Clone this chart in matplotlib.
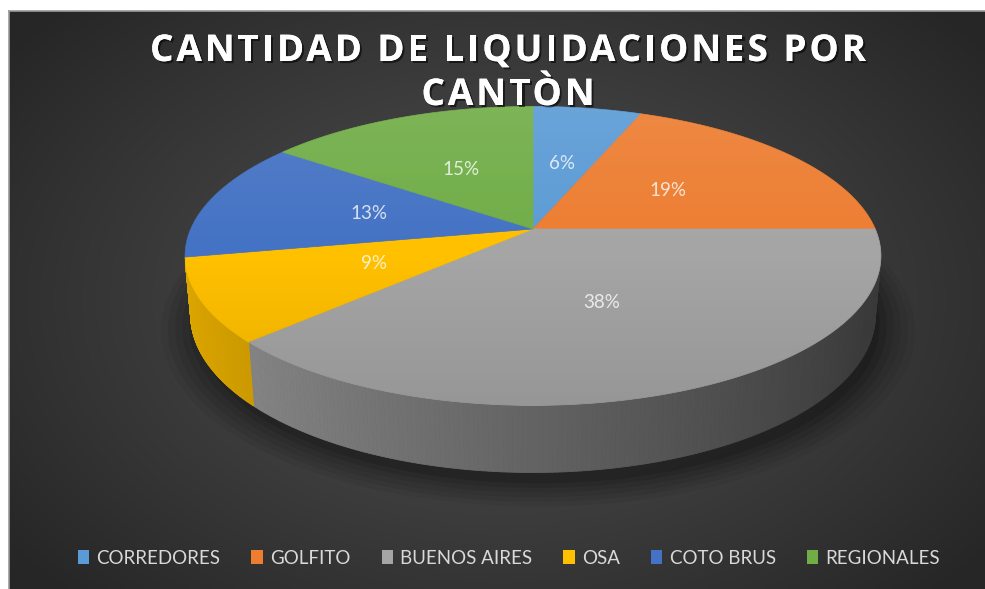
import numpy as np
import matplotlib
matplotlib.use("Agg")
import matplotlib.pyplot as plt
from matplotlib.patches import Polygon, Patch
from matplotlib.collections import PolyCollection
from matplotlib import patheffects as pe
from matplotlib.colors import to_rgb
from matplotlib.font_manager import FontProperties

# data
cantones = ["CORREDORES", "GOLFITO", "BUENOS AIRES", "OSA", "COTO BRUS", "REGIONALES"]
porcentajes = [6, 19, 38, 9, 13, 15]
colores = ["#5B9BD5", "#ED7D31", "#A5A5A5", "#FFC000", "#4472C4", "#70AD47"]
titulo = ["CANTIDAD DE LIQUIDACIONES POR", "CANTÒN"]

W, H = 985, 589

# 3D pie view (simple perspective camera)
TILT = np.radians(25)
DIST = 5.04
FOCAL = 1725
DEPTH = 0.19
CX, CY = 533, 229
COS_T, SIN_T = np.cos(TILT), np.sin(TILT)


def project(x, y, z):
    """Project world point (x right, y far, z up) to pixel coords."""
    depth = DIST + y * COS_T - z * SIN_T
    up = y * SIN_T + z * COS_T
    return CX + FOCAL * x / depth, CY - FOCAL * up / depth


def ring(theta, z, r=1.0):
    return project(r * np.cos(theta), r * np.sin(theta), z)


def tracked_text(ax, renderer, x_center, y, text, prop, track, **kw):
    """Draw text centred at x_center with extra letter spacing (pixels)."""
    def width(s):
        return renderer.get_text_width_height_descent(s, prop, ismath=False)[0]

    lefts = []
    for k, ch in enumerate(text):
        lefts.append(width(text[:k + 1]) - width(ch) if ch != " " else None)
    total = width(text) + track * (len(text) - 1)
    x0 = x_center - total / 2
    for k, ch in enumerate(text):
        if lefts[k] is None:
            continue
        ax.text(x0 + lefts[k] + k * track, y, ch, ha="left", va="baseline",
                fontproperties=prop, **kw)


fig = plt.figure(figsize=(W / 100, H / 100), dpi=100, facecolor="white")
ax = fig.add_axes([0, 0, 1, 1])
ax.set_xlim(0, W)
ax.set_ylim(H, 0)
ax.axis("off")
renderer = fig.canvas.get_renderer()

# background panel with radial gradient
gx, gy = np.meshgrid(np.linspace(9, W, 400), np.linspace(11, H, 240))
rad = np.sqrt(((gx - 500) / 620) ** 2 + ((gy - 300) / 420) ** 2)
rad = np.clip(rad, 0, 1) ** 1.2
c_in = np.array(to_rgb("#4e4e4e"))
c_out = np.array(to_rgb("#262626"))
bg = c_in[None, None, :] * (1 - rad[..., None]) + c_out[None, None, :] * rad[..., None]
ax.imshow(bg, extent=[9, W, H, 11], aspect="auto", zorder=0, interpolation="bilinear")
ax.plot([9, W], [11, 11], color="#9a9a9a", lw=1.2, zorder=1)
ax.plot([9, 9], [11, H], color="#9a9a9a", lw=1.2, zorder=1)

# slice angles: start at 12 o'clock, go clockwise
fracs = np.array(porcentajes, dtype=float) / sum(porcentajes)
bounds = np.concatenate([[0], np.cumsum(fracs)])
angles = np.radians(90 - 360 * bounds)

# soft shadow under the pie
full = np.linspace(0, 2 * np.pi, 360)
for k, a in zip(np.linspace(1.10, 1.0, 6), [0.05, 0.06, 0.07, 0.08, 0.1, 0.12]):
    sx, sy = ring(full, -DEPTH - 0.02, r=k)
    ax.add_patch(Polygon(np.column_stack([sx + 5, sy + 4]), closed=True,
                         facecolor="black", edgecolor="none", alpha=a, zorder=2))

# side walls (only the part facing the camera)
limit = -1 / (DIST * COS_T)
quads, qcolors = [], []
for i, col in enumerate(colores):
    base = np.array(to_rgb(col))
    t = np.linspace(angles[i], angles[i + 1], 200)
    for ta, tb in zip(t[:-1], t[1:]):
        tm = 0.5 * (ta + tb)
        if np.sin(tm) >= limit:
            continue
        xa0, ya0 = ring(ta, 0)
        xb0, yb0 = ring(tb, 0)
        xa1, ya1 = ring(ta, -DEPTH)
        xb1, yb1 = ring(tb, -DEPTH)
        quads.append([(xa0, ya0), (xb0, yb0), (xb1, yb1), (xa1, ya1)])
        shade = 0.60 - 0.27 * np.cos(tm)
        qcolors.append(np.clip(base * shade, 0, 1))
ax.add_collection(PolyCollection(quads, facecolors=qcolors, edgecolors=qcolors,
                                 linewidths=0.6, zorder=3))

# top face
for i, col in enumerate(colores):
    t = np.linspace(angles[i], angles[i + 1], 120)
    px, py = ring(t, 0)
    cx0, cy0 = project(0, 0, 0)
    verts = np.column_stack([np.r_[cx0, px], np.r_[cy0, py]])
    ax.add_patch(Polygon(verts, closed=True, facecolor=col, edgecolor=col,
                         lw=0.5, zorder=4))

# subtle light on the top face
tx, ty = ring(full, 0)
clip = Polygon(np.column_stack([tx, ty]), closed=True, transform=ax.transData)
grad = np.linspace(0, 1, 200)[:, None]
overlay = np.zeros((200, 2, 4))
overlay[..., :3] = np.where(grad[..., None] < 0.5, 1.0, 0.0)
overlay[..., 3] = (np.abs(grad - 0.5) * 0.18)[..., 0][:, None]
im = ax.imshow(overlay, extent=[tx.min(), tx.max(), ty.max(), ty.min()],
               aspect="auto", zorder=5, interpolation="bilinear")
im.set_clip_path(clip)

# percentage labels
for i, p in enumerate(porcentajes):
    tm = 0.5 * (angles[i] + angles[i + 1])
    lx, ly = ring(tm, 0, r=0.5)
    ax.text(lx, ly, f"{p}%", ha="center", va="center", fontsize=13.5,
            family="Lato", color="white", alpha=0.78, zorder=6)

# title with letter spacing and soft shadow
title_font = FontProperties(family="Open Sans", weight="bold", size=26.5)
shadow = [pe.withSimplePatchShadow(offset=(1.5, -1.5), shadow_rgbFace="black", alpha=0.55),
          pe.Normal()]
tracked_text(ax, renderer, 508, 61, titulo[0], title_font, 3.0,
             color="white", path_effects=shadow, zorder=7)
tracked_text(ax, renderer, 508, 105, titulo[1], title_font, 3.0,
             color="white", path_effects=shadow, zorder=7)

# legend
handles = [Patch(facecolor=c, edgecolor="none") for c in colores]
fig.legend(handles, cantones, loc="center", bbox_to_anchor=(509 / W, 1 - 558 / H),
           ncol=6, frameon=False, handlelength=0.6, handleheight=0.8,
           handletextpad=0.4, columnspacing=1.65,
           prop={"family": "Lato", "size": 13.5}, labelcolor="#d9d9d9")

fig.savefig("out.png", dpi=100, facecolor="white")
